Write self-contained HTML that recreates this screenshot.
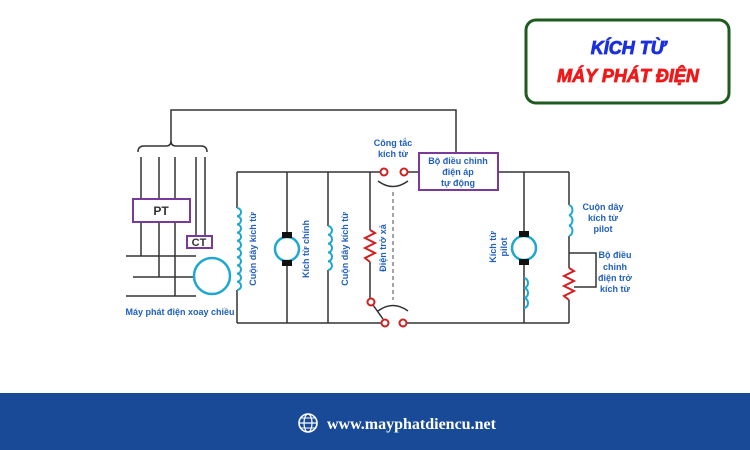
<!DOCTYPE html>
<html><head><meta charset="utf-8"><style>
html,body{margin:0;padding:0;background:#fff;}
body{width:750px;height:450px;overflow:hidden;position:relative;font-family:"Liberation Sans",sans-serif;}
</style></head><body>
<svg width="750" height="450" viewBox="0 0 750 450" xmlns="http://www.w3.org/2000/svg" style="position:absolute;left:0;top:0">
<rect x="0" y="0" width="750" height="450" fill="#fff"/>
<!-- header -->
<rect x="526" y="20" width="203" height="83" rx="10" fill="#fff" stroke="#1f5a1f" stroke-width="3"/>
<text x="628" y="54" text-anchor="middle" font-family="Liberation Sans, sans-serif" font-weight="bold" font-style="italic" font-size="18" fill="#1a2fe0" stroke="#1a2fe0" stroke-width="0.8">KÍCH TỪ</text>
<text x="628" y="82" text-anchor="middle" font-family="Liberation Sans, sans-serif" font-weight="bold" font-style="italic" font-size="18" fill="#f01818" stroke="#f01818" stroke-width="0.8">MÁY PHÁT ĐIỆN</text>
<!-- footer -->
<rect x="0" y="393" width="750" height="57" fill="#184a98"/>
<circle cx="308" cy="423" r="9" fill="none" stroke="#fff" stroke-width="1.6"/>
<ellipse cx="308" cy="423" rx="4" ry="9" fill="none" stroke="#fff" stroke-width="1.2"/>
<line x1="299" y1="423" x2="317" y2="423" stroke="#fff" stroke-width="1.2"/>
<line x1="300" y1="418" x2="316" y2="418" stroke="#fff" stroke-width="1"/>
<line x1="300" y1="428" x2="316" y2="428" stroke="#fff" stroke-width="1"/>
<text x="327" y="429" font-family="Liberation Serif, serif" font-weight="bold" font-size="16" fill="#fff">www.mayphatdiencu.net</text>

<g stroke="#333" stroke-width="1.5" fill="none">
<polyline points="171,141 171,110 456,110 456,153"/>
<path d="M138,152 Q138,146 144,146 L166,146 Q171,146 171,141 Q171,146 176,146 L201,146 Q207,146 207,152"/>
<line x1="141" y1="157" x2="141" y2="256"/>
<line x1="159" y1="157" x2="159" y2="277"/>
<line x1="175" y1="157" x2="175" y2="296"/>
<line x1="196" y1="157" x2="196" y2="236"/>
<line x1="205" y1="157" x2="205" y2="236"/>
<line x1="126" y1="256" x2="196" y2="256"/>
<line x1="133" y1="277" x2="194" y2="277"/>
<line x1="126" y1="296" x2="196" y2="296"/>
<line x1="237" y1="172" x2="380" y2="172"/>
<line x1="237" y1="323" x2="381" y2="323"/>
<line x1="237" y1="172" x2="237" y2="208"/>
<line x1="237" y1="290" x2="237" y2="323"/>
<line x1="287" y1="172" x2="287" y2="234"/>
<line x1="287" y1="264" x2="287" y2="323"/>
<line x1="328" y1="172" x2="328" y2="226"/>
<line x1="328" y1="270" x2="328" y2="323"/>
<line x1="370" y1="172" x2="370" y2="230"/>
<line x1="370" y1="262" x2="370" y2="298"/>
<line x1="373" y1="305" x2="383" y2="319"/>
<line x1="408" y1="172" x2="419" y2="172"/>
<line x1="407" y1="323" x2="569" y2="323"/>
<path d="M378,181 Q393,192 408,181"/>
<path d="M378,311 Q393,300 408,311"/>
<line x1="393" y1="192" x2="393" y2="300" stroke="#888" stroke-dasharray="4,3"/>
<line x1="498" y1="172" x2="569" y2="172"/>
<line x1="524" y1="172" x2="524" y2="234"/>
<line x1="524" y1="262" x2="524" y2="323"/>
<line x1="569" y1="172" x2="569" y2="205"/>
<line x1="569" y1="236" x2="569" y2="268"/>
<line x1="569" y1="300" x2="569" y2="323"/>
<polyline points="569,253 596,253 596,287 574,287"/>
</g>
<rect x="133" y="199" width="57" height="23" fill="#fff" stroke="#7a3a9a" stroke-width="2"/>
<text x="161" y="215" text-anchor="middle" font-size="12" font-weight="bold" fill="#333">PT</text>
<rect x="187" y="236" width="25" height="12" fill="#fff" stroke="#7a3a9a" stroke-width="2"/>
<text x="199" y="246" text-anchor="middle" font-size="11" font-weight="bold" fill="#333">CT</text>
<rect x="419" y="153" width="79" height="37" fill="#fff" stroke="#7a3a9a" stroke-width="2"/>
<g font-size="9" font-weight="bold" fill="#1f5fc0" text-anchor="middle">
<text x="458" y="164">Bộ điều chỉnh</text>
<text x="458" y="175">điện áp</text>
<text x="458" y="186">tự động</text>
<text x="393" y="146">Công tắc</text>
<text x="393" y="157">kích từ</text>
<text x="180" y="315">Máy phát điện xoay chiều</text>
<text x="603" y="210">Cuộn dây</text>
<text x="603" y="221">kích từ</text>
<text x="603" y="232">pilot</text>
<text x="615" y="258">Bộ điều</text>
<text x="615" y="270">chỉnh</text>
<text x="615" y="281">điện trở</text>
<text x="615" y="292">kích từ</text>
<text transform="translate(256,249) rotate(-90)">Cuộn dây kích từ</text>
<text transform="translate(309,249) rotate(-90)">Kích từ chính</text>
<text transform="translate(348,249) rotate(-90)">Cuộn dây kích từ</text>
<text transform="translate(386,248) rotate(-90)">Điện trở xả</text>
<text transform="translate(496,247) rotate(-90)">Kích từ</text>
<text transform="translate(507,247) rotate(-90)">pilot</text>
</g>
<circle cx="212" cy="276" r="18" fill="#fff" stroke="#1fa7d0" stroke-width="2.5"/>
<g fill="none" stroke="#1fa7d0" stroke-width="2">
<path d="M237,208 a4,4.1 0 0 1 0,8.2 a4,4.1 0 0 1 0,8.2 a4,4.1 0 0 1 0,8.2 a4,4.1 0 0 1 0,8.2 a4,4.1 0 0 1 0,8.2 a4,4.1 0 0 1 0,8.2 a4,4.1 0 0 1 0,8.2 a4,4.1 0 0 1 0,8.2 a4,4.1 0 0 1 0,8.2 a4,4.1 0 0 1 0,8.2"/>
<path d="M328,226 a4,4.4 0 0 1 0,8.8 a4,4.4 0 0 1 0,8.8 a4,4.4 0 0 1 0,8.8 a4,4.4 0 0 1 0,8.8 a4,4.4 0 0 1 0,8.8"/>
<path d="M569,205 a4,5.2 0 0 1 0,10.3 a4,5.2 0 0 1 0,10.3 a4,5.2 0 0 1 0,10.3"/>
<path d="M524,278 a4,5 0 0 1 0,10 a4,5 0 0 1 0,10 a4,5 0 0 1 0,10"/>
<circle cx="287" cy="249" r="12" stroke-width="2.5"/>
<circle cx="524" cy="248" r="12" stroke-width="2.5"/>
</g>
<g fill="#111">
<rect x="282" y="232" width="10" height="6"/><rect x="282" y="260" width="10" height="6"/>
<rect x="519" y="231" width="10" height="6"/><rect x="519" y="259" width="10" height="6"/>
</g>
<g fill="none" stroke="#d02020" stroke-width="2">
<polyline points="370,230 375,233 365,238 375,243 365,248 375,253 365,258 370,262"/>
<polyline points="569,268 574,271 564,276 574,281 564,286 574,291 564,296 569,300"/>
</g>
<g fill="#fff" stroke="#d02020" stroke-width="2">
<circle cx="384" cy="172" r="3.5"/><circle cx="404" cy="172" r="3.5"/>
<circle cx="371" cy="302" r="3.5"/>
<circle cx="385" cy="323" r="3.5"/><circle cx="403" cy="323" r="3.5"/>
</g>
</svg>
</body></html>
